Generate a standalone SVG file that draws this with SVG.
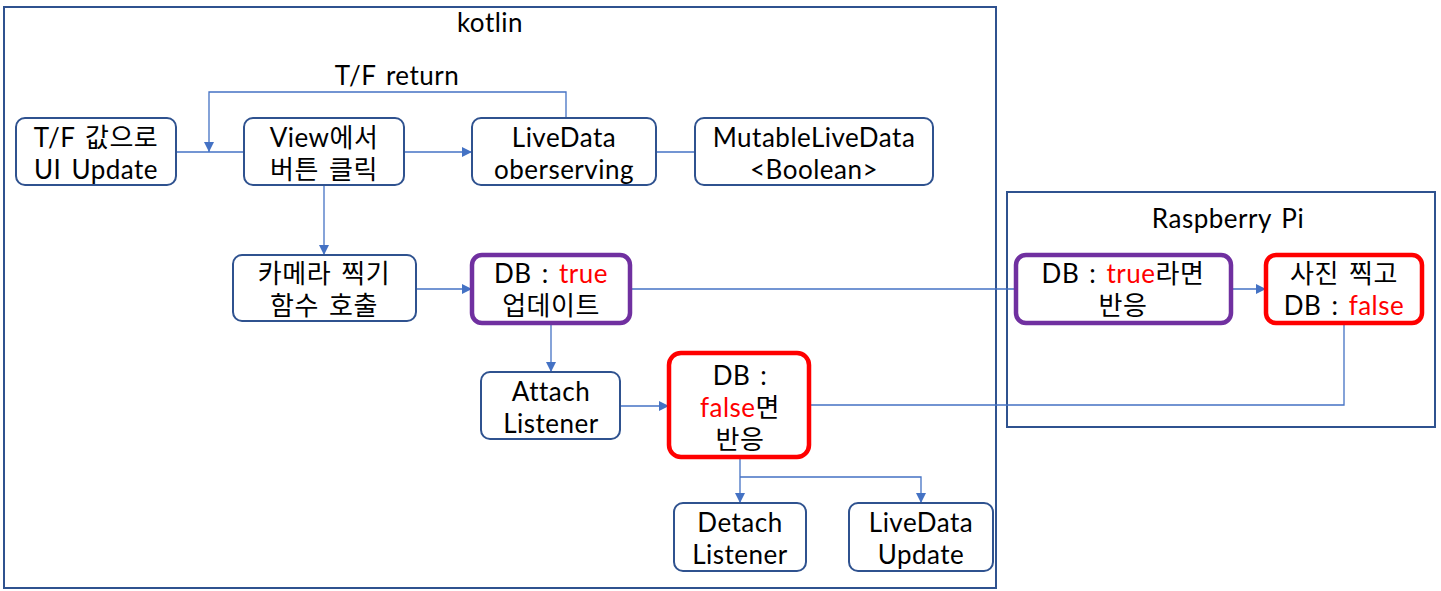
<svg xmlns="http://www.w3.org/2000/svg" width="1441" height="591" viewBox="0 0 1441 591">
<style>
.frame{fill:none;stroke:#2F528F;stroke-width:2}
.box{fill:#fff;stroke:#2F528F;stroke-width:2}
.purple{fill:#fff;stroke:#7030A0;stroke-width:4.5}
.red{fill:#fff;stroke:#FF0000;stroke-width:4.5}
text{font-family:Lato,"Noto Sans CJK KR",sans-serif;font-size:26px;fill:#000;text-anchor:middle;dominant-baseline:central;word-spacing:3px;letter-spacing:0.5px}
.r{fill:#FF0000}
.con{fill:none;stroke:#4472C4;stroke-width:1.3}
</style>
<defs>
<marker id="arr" viewBox="0 0 10 10" refX="10" refY="5" markerWidth="10" markerHeight="10" markerUnits="userSpaceOnUse" orient="auto">
<path d="M0,0 L10,5 L0,10 z" fill="#4472C4"/>
</marker>
</defs>
<rect width="1441" height="591" fill="#fff"/>
<g id="kotlin-frame">
<rect class="frame" x="4" y="7" width="992" height="581"/>
<text x="490" y="22">kotlin</text>
</g>
<g id="raspberry-frame">
<rect class="frame" x="1007" y="192" width="428" height="235"/>
<text x="1228" y="218">Raspberry Pi</text>
</g>
<g id="connectors">
<line class="con" x1="176" y1="152" x2="244" y2="152"/>
<polyline class="con" points="566,118 566,92 209,92 209,152" marker-end="url(#arr)"/>
<line class="con" x1="404" y1="152" x2="472" y2="152" marker-end="url(#arr)"/>
<line class="con" x1="656" y1="152" x2="695" y2="152"/>
<line class="con" x1="324" y1="185" x2="324" y2="255" marker-end="url(#arr)"/>
<line class="con" x1="416" y1="289" x2="472" y2="289" marker-end="url(#arr)"/>
<line class="con" x1="630" y1="289" x2="1016" y2="289"/>
<line class="con" x1="1231" y1="289" x2="1266" y2="289" marker-end="url(#arr)"/>
<line class="con" x1="551" y1="323" x2="551" y2="372" marker-end="url(#arr)"/>
<line class="con" x1="620" y1="406" x2="669" y2="406" marker-end="url(#arr)"/>
<polyline class="con" points="1344,323 1344,405 809,405"/>
<line class="con" x1="740" y1="457" x2="740" y2="503" marker-end="url(#arr)"/>
<polyline class="con" points="740,477 921,477 921,503" marker-end="url(#arr)"/>
<text x="397" y="75">T/F return</text>
</g>
<g id="node-ui-update">
<rect class="box" x="16" y="118" width="160" height="67" rx="9"/>
<text x="96" y="137">T/F 값으로<tspan x="96" dy="32">UI Update</tspan></text>
</g>
<g id="node-view-click">
<rect class="box" x="244" y="118" width="160" height="67" rx="9"/>
<text x="324" y="137">View에서<tspan x="324" dy="32">버튼 클릭</tspan></text>
</g>
<g id="node-livedata-observing">
<rect class="box" x="472" y="118" width="184" height="67" rx="9"/>
<text x="564" y="137">LiveData<tspan x="564" dy="32">oberserving</tspan></text>
</g>
<g id="node-mutablelivedata">
<rect class="box" x="695" y="118" width="238" height="67" rx="9"/>
<text x="814" y="137">MutableLiveData<tspan x="814" dy="32">&lt;Boolean&gt;</tspan></text>
</g>
<g id="node-camera">
<rect class="box" x="233" y="255" width="183" height="66" rx="9"/>
<text x="324" y="273">카메라 찍기<tspan x="324" dy="32">함수 호출</tspan></text>
</g>
<g id="node-db-true">
<rect class="purple" x="472" y="255" width="158" height="68" rx="10"/>
<text x="551" y="273">DB : <tspan class="r">true</tspan><tspan x="551" dy="32">업데이트</tspan></text>
</g>
<g id="node-attach">
<rect class="box" x="481" y="372" width="139" height="67" rx="9"/>
<text x="551" y="391">Attach<tspan x="551" dy="32">Listener</tspan></text>
</g>
<g id="node-db-false">
<rect class="red" x="669" y="353" width="140" height="104" rx="12"/>
<text x="740" y="375">DB :<tspan x="740" dy="32"><tspan class="r">false</tspan>면</tspan><tspan x="740" dy="32">반응</tspan></text>
</g>
<g id="node-detach">
<rect class="box" x="674" y="503" width="132" height="68" rx="9"/>
<text x="740" y="522">Detach<tspan x="740" dy="32">Listener</tspan></text>
</g>
<g id="node-livedata-update">
<rect class="box" x="849" y="503" width="144" height="68" rx="9"/>
<text x="921" y="522">LiveData<tspan x="921" dy="32">Update</tspan></text>
</g>
<g id="node-rpi-true">
<rect class="purple" x="1016" y="255" width="215" height="68" rx="10"/>
<text x="1123" y="273">DB : <tspan class="r">true</tspan>라면<tspan x="1123" dy="32">반응</tspan></text>
</g>
<g id="node-rpi-photo">
<rect class="red" x="1266" y="255" width="156" height="68" rx="10"/>
<text x="1344" y="273">사진 찍고<tspan x="1344" dy="32">DB : <tspan class="r">false</tspan></tspan></text>
</g>
</svg>
